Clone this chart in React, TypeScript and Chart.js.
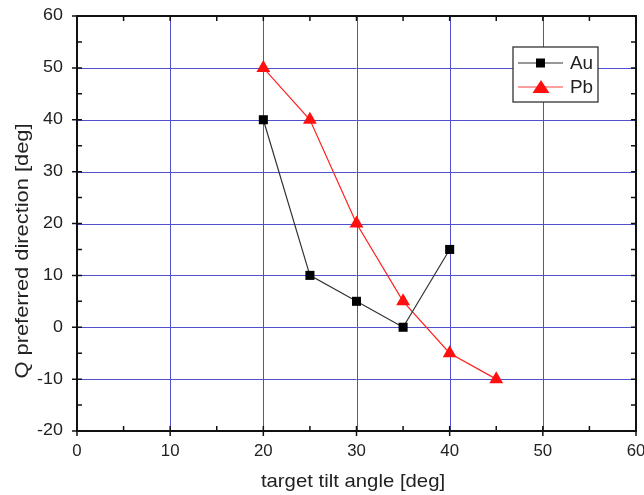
import React, { useEffect, useRef } from "react";
import { Chart, registerables } from "chart.js";

Chart.register(...registerables);

const auAngles = [20, 25, 30, 35, 40];
const auValues = [40, 10, 5, 0, 15];
const pbAngles = [20, 25, 30, 35, 40, 45];
const pbValues = [50, 40, 20, 5, -5, -10];
const xTicks = [0, 10, 20, 30, 40, 50, 60];
const yTicks = [-20, -10, 0, 10, 20, 30, 40, 50, 60];
const seriesNames = ["Au", "Pb"];
const xTitle = "target tilt angle [deg]";
const yTitle = "Q preferred direction [deg]";

const FONT = "Liberation Sans, Arial, sans-serif";

function stretchedText(ctx: any, text: string, x: number, y: number, sx: number) {
  ctx.save();
  ctx.translate(x, y);
  ctx.scale(sx, 1);
  ctx.fillText(text, 0, 0);
  ctx.restore();
}

const framePlugin = {
  id: "originFrame",
  beforeDatasetsDraw(chart: any) {
    const ctx = chart.ctx;
    const xs = chart.scales.x;
    const ys = chart.scales.y;
    const { left, right, top, bottom } = chart.chartArea;
    ctx.save();
    ctx.strokeStyle = "rgb(80,80,200)";
    ctx.lineWidth = 1;
    xTicks.forEach((v) => {
      if (v === xTicks[0] || v === xTicks[xTicks.length - 1]) return;
      const px = Math.round(xs.getPixelForValue(v)) + 0.5;
      ctx.beginPath();
      ctx.moveTo(px, top);
      ctx.lineTo(px, bottom);
      ctx.stroke();
    });
    yTicks.forEach((v) => {
      if (v === yTicks[0] || v === yTicks[yTicks.length - 1]) return;
      const py = Math.round(ys.getPixelForValue(v)) + 0.5;
      ctx.beginPath();
      ctx.moveTo(left, py);
      ctx.lineTo(right, py);
      ctx.stroke();
    });
    ctx.restore();
  },
  afterDraw(chart: any) {
    const ctx = chart.ctx;
    const xs = chart.scales.x;
    const ys = chart.scales.y;
    const { left, right, top, bottom } = chart.chartArea;
    ctx.save();
    ctx.strokeStyle = "#111";
    ctx.lineWidth = 2;
    ctx.strokeRect(left, top, right - left, bottom - top);
    ctx.lineWidth = 1.5;
    for (let v = xTicks[0]; v <= xTicks[xTicks.length - 1]; v += 5) {
      const major = v % 10 === 0;
      const px = xs.getPixelForValue(v);
      ctx.beginPath();
      ctx.moveTo(px, bottom + (major ? 5 : 0));
      ctx.lineTo(px, bottom - 5);
      ctx.moveTo(px, top);
      ctx.lineTo(px, top + 5);
      ctx.stroke();
    }
    for (let v = yTicks[0]; v <= yTicks[yTicks.length - 1]; v += 5) {
      const major = v % 10 === 0;
      const py = ys.getPixelForValue(v);
      ctx.beginPath();
      ctx.moveTo(left - (major ? 5 : 0), py);
      ctx.lineTo(left + 5, py);
      ctx.moveTo(right, py);
      ctx.lineTo(right - 5, py);
      ctx.stroke();
    }
    ctx.fillStyle = "#222";
    ctx.font = `16px ${FONT}`;
    ctx.textAlign = "center";
    ctx.textBaseline = "middle";
    xTicks.forEach((v) => {
      stretchedText(ctx, String(v), xs.getPixelForValue(v), bottom + 21, 1.05);
    });
    ctx.textAlign = "right";
    yTicks.forEach((v) => {
      stretchedText(ctx, String(v), left - 14, ys.getPixelForValue(v), 1.12);
    });
    ctx.font = `19px ${FONT}`;
    ctx.textAlign = "center";
    stretchedText(ctx, xTitle, 353, bottom + 51, 1.07);
    ctx.save();
    ctx.translate(23, 251);
    ctx.rotate(-Math.PI / 2);
    stretchedText(ctx, yTitle, 0, 0, 1.15);
    ctx.restore();

    // legend
    const lx = 513, ly = 47, lw = 85, lh = 55;
    ctx.fillStyle = "#fff";
    ctx.fillRect(lx, ly, lw, lh);
    ctx.strokeStyle = "#333";
    ctx.lineWidth = 1.3;
    ctx.strokeRect(lx, ly, lw, lh);
    const rows = [
      { y: ly + 16, color: "#222", name: seriesNames[0], shape: "rect" },
      { y: ly + 40, color: "#ff1010", name: seriesNames[1], shape: "tri" },
    ];
    rows.forEach((r) => {
      ctx.strokeStyle = r.shape === "rect" ? "#333" : "#ff4040";
      ctx.lineWidth = 1;
      ctx.beginPath();
      ctx.moveTo(lx + 5, r.y);
      ctx.lineTo(lx + 50, r.y);
      ctx.stroke();
      ctx.fillStyle = r.shape === "rect" ? "#000" : r.color;
      if (r.shape === "rect") {
        ctx.fillRect(lx + 23, r.y - 4.5, 9, 9);
      } else {
        ctx.beginPath();
        ctx.moveTo(lx + 28, r.y - 7);
        ctx.lineTo(lx + 36.5, r.y + 6);
        ctx.lineTo(lx + 19.5, r.y + 6);
        ctx.closePath();
        ctx.fill();
      }
      ctx.fillStyle = "#222";
      ctx.font = `18px ${FONT}`;
      ctx.textAlign = "left";
      stretchedText(ctx, r.name, lx + 57, r.y + 1, 1.05);
    });
    ctx.restore();
  },
};

export default function App() {
  const ref = useRef<HTMLCanvasElement>(null);
  useEffect(() => {
    document.body.style.margin = "0";
    const chart = new Chart(ref.current!, {
      type: "scatter",
      data: {
        datasets: [
          {
            label: seriesNames[0],
            data: auAngles.map((x, i) => ({ x, y: auValues[i] })),
            showLine: true,
            borderColor: "#333",
            backgroundColor: "#000",
            borderWidth: 1.2,
            pointStyle: "rect",
            pointRadius: 6.4,
            pointBorderWidth: 0,
          },
          {
            label: seriesNames[1],
            data: pbAngles.map((x, i) => ({ x, y: pbValues[i] })),
            showLine: true,
            borderColor: "#ff2020",
            backgroundColor: "#ff1010",
            borderWidth: 1.2,
            pointStyle: "triangle",
            pointRadius: 8,
            pointBorderWidth: 0,
          },
        ],
      },
      options: {
        animation: false,
        responsive: false,
        layout: { padding: { left: 77, top: 16, right: 6, bottom: 64 } },
        plugins: { legend: { display: false }, tooltip: { enabled: false } },
        scales: {
          x: { type: "linear", min: 0, max: 60, display: false },
          y: { type: "linear", min: -20, max: 60, display: false },
        },
      },
      plugins: [framePlugin],
    });
    return () => chart.destroy();
  }, []);
  return (
    <div style={{ position: "absolute", left: 0, top: 0, width: 644, height: 495, background: "#fff" }}>
      <canvas ref={ref} width={644} height={495} />
    </div>
  );
}
